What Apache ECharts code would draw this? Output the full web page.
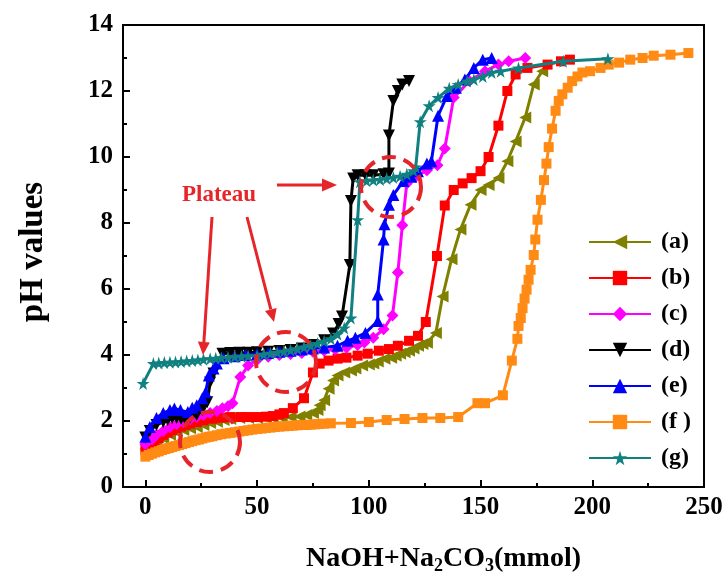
<!DOCTYPE html>
<html>
<head>
<meta charset="utf-8">
<script src="https://cdn.jsdelivr.net/npm/echarts@6/dist/echarts.min.js"></script>
<style>html,body{margin:0;padding:0;background:#fff}#c{width:726px;height:580px}</style>
</head>
<body>
<div id="c"></div>
<script>
var seriesNames = ['(a)', '(b)', '(c)', '(d)', '(e)', '(f )', '(g)'];
var xTickValues = [0, 50, 100, 150, 200, 250];
var xMinorValues = [25, 75, 125, 175, 225];
var yTickValues = [0, 2, 4, 6, 8, 10, 12, 14];

var dataA = [[0,1.15],[3,1.28],[5,1.38],[8,1.48],[11,1.58],[14,1.66],[17,1.73],[20,1.78],[23,1.82],[26,1.88],[29,1.94],[32,1.98],[35,2.03],[38,2.06],[42,2.09],[46,2.09],[50,2.09],[54,2.09],[57,2.09],[61,2.1],[65,2.12],[69,2.14],[72,2.18],[75,2.24],[77,2.33],[78,2.48],[80,2.63],[82,2.98],[84,3.23],[86,3.38],[89,3.47],[92,3.53],[94,3.59],[97,3.68],[100,3.71],[102,3.74],[104,3.8],[107,3.89],[110,3.92],[112,3.98],[114,4.04],[116,4.08],[118,4.13],[120,4.2],[122,4.28],[124,4.33],[126,4.37],[130,4.67],[133,5.77],[137,6.9],[141,7.8],[145.5,8.55],[150,9.0],[153.6,9.15],[158,9.36],[162,9.87],[165.7,10.47],[170,11.2],[173.8,12.2],[177.6,12.6]];
var dataB = [[0,1.12],[2,1.25],[4,1.38],[6,1.48],[8,1.58],[10,1.65],[12,1.72],[14,1.78],[16,1.83],[18,1.88],[20,1.92],[23,1.97],[26,2.02],[30,2.07],[34,2.1],[38,2.12],[42.5,2.12],[46,2.12],[50,2.12],[54,2.13],[57,2.15],[60,2.2],[62,2.24],[66,2.39],[71,2.69],[75,3.47],[78,3.74],[82,3.83],[86,3.89],[90,3.92],[95,3.98],[99.5,4.04],[104.5,4.13],[109,4.18],[113,4.28],[118,4.43],[122,4.58],[125.5,5.0],[130.5,7.0],[134,8.53],[138,9.0],[142,9.2],[146,9.36],[150,9.57],[153.6,10.0],[158,10.95],[162,12.0],[165.7,12.5],[171,12.7],[180,12.8],[186,12.9],[190,12.95]];
var dataC = [[0,1.3],[3,1.45],[5,1.58],[8,1.7],[11,1.82],[14,1.9],[17,1.97],[20,2.05],[23,2.12],[26,2.18],[29,2.24],[32,2.3],[34.5,2.39],[37,2.45],[39,2.54],[42.5,3.33],[46,3.68],[50,3.85],[55,3.95],[60,4.0],[65,4.03],[70,4.06],[75,4.1],[80,4.13],[85,4.17],[90,4.22],[95,4.3],[98,4.38],[102,4.52],[106.6,4.78],[110.6,5.2],[113,6.5],[115,7.93],[117,9.2],[121,9.4],[126,9.6],[130.7,9.75],[134,10.26],[138,11.8],[145,12.3],[152,12.6],[158,12.8],[162.6,12.9],[170,13.0]];
var dataD = [[0,1.5],[2,1.7],[5,1.88],[8,1.97],[10,2.03],[12,2.08],[14,2.09],[16,2.07],[18,2.03],[20,2.1],[23,2.18],[25.5,2.33],[27.7,2.57],[29,3.17],[30.5,3.44],[32,3.74],[34.5,4.04],[38,4.06],[42,4.07],[46,4.07],[50,4.08],[55,4.1],[60,4.12],[65,4.15],[70,4.2],[75,4.3],[80,4.45],[84,4.65],[86.5,4.94],[88,5.17],[91.5,6.73],[92,8.67],[93,9.35],[95,9.45],[98.5,9.45],[102,9.45],[106.6,9.48],[109,9.5],[109,10.65],[111,11.7],[113,12.0],[115,12.2],[118,12.3]];
var dataE = [[0,1.52],[2,1.82],[5,2.09],[8,2.24],[11,2.33],[13,2.38],[15.7,2.33],[19,2.27],[21,2.4],[23,2.48],[25.5,2.69],[27,2.87],[28.4,3.38],[30.5,3.59],[32,3.74],[35,3.9],[40,3.96],[45,4.0],[50,4.03],[55,4.06],[60,4.1],[65,4.13],[70,4.17],[75,4.2],[80,4.23],[86,4.28],[90.5,4.43],[94,4.52],[98.5,4.67],[104,5.03],[104,5.83],[106.6,7.5],[107,7.96],[109,8.55],[111,8.85],[115.5,9.27],[119,9.4],[122,9.57],[126,9.8],[128,9.87],[131,11.25],[135,11.85],[139,12.1],[143,12.35],[147,12.7],[151,12.95],[155,13.0]];
var dataF = [[0,0.92],[1.5,0.97],[3,1.01],[4.5,1.05],[6,1.08],[7.5,1.12],[9,1.15],[10.5,1.18],[12,1.21],[13.5,1.24],[15,1.27],[16.5,1.3],[18,1.33],[19.5,1.36],[21,1.39],[22.5,1.42],[24,1.44],[25.5,1.47],[27,1.5],[28.5,1.52],[30,1.54],[32,1.57],[34,1.6],[36,1.62],[38,1.64],[40,1.66],[42,1.68],[44,1.7],[46,1.72],[48,1.74],[50,1.76],[52,1.77],[54,1.79],[56,1.8],[58,1.82],[60,1.83],[62,1.84],[64,1.85],[66,1.86],[68,1.87],[70,1.88],[72,1.88],[74,1.89],[76,1.9],[78,1.91],[80,1.92],[83,1.93],[92,1.94],[100,1.97],[108,2.03],[116,2.06],[124,2.09],[132,2.09],[140,2.12],[148.6,2.54],[152,2.54],[160,2.78],[164,3.83],[166.5,4.49],[167,4.88],[168,5.12],[168.8,5.42],[169.7,5.71],[170.6,5.98],[171.5,6.28],[172.4,6.58],[173.8,7.03],[174.5,7.5],[175.5,8.1],[177,8.7],[178.4,9.3],[179.5,9.8],[180.5,10.3],[182,10.86],[183.6,11.4],[185,11.7],[186.6,11.9],[189,12.1],[191,12.3],[193.4,12.44],[195.6,12.56],[199,12.6],[203.7,12.7],[207.4,12.8],[212,12.86],[217,12.95],[222.5,13.0],[227.5,13.07],[235,13.1],[243,13.15]];
var dataG = [[-1,3.14],[3.6,3.74],[6,3.76],[8.5,3.77],[11,3.78],[13.5,3.79],[16,3.8],[18.5,3.82],[21,3.83],[23.5,3.85],[26,3.87],[29,3.89],[31.5,3.9],[34,3.92],[37,3.93],[40,3.95],[43,3.96],[46,3.97],[50,3.98],[53,4.02],[56,4.05],[59,4.08],[62,4.11],[65,4.15],[68,4.19],[71,4.24],[74,4.29],[77,4.35],[80,4.42],[83,4.49],[86,4.63],[89,4.82],[92,5.12],[95,8.1],[96,9.25],[99,9.28],[102,9.3],[105,9.32],[108,9.35],[111,9.38],[114,9.42],[117,9.48],[120,9.58],[121,9.7],[123,11.07],[127,11.55],[131,11.8],[136,12.08],[140,12.2],[144,12.3],[147,12.35],[151,12.44],[155,12.56],[159,12.6],[167,12.7],[187,12.9],[207,12.98]];

var seriesData = [dataA, dataB, dataC, dataD, dataE, dataF, dataG];
var colors = ['#808000', '#ff0000', '#ff00ff', '#000000', '#0000ff', '#ff8a14', '#108080'];
var STAR = 'path://M50,0 L61,35 L98,35 L68,57 L79,91 L50,70 L21,91 L32,57 L2,35 L39,35 Z';
var symbols = ['triangle', 'rect', 'diamond', 'triangle', 'triangle', 'rect', STAR];
var rotations = [90, 0, 0, 180, 0, 0, 0];
var sizes = [12, 10, 12, 12, 12, 10, 13];

var FONT = '"Liberation Serif", "Times New Roman", serif';
var RED = '#e5252a';

var chart = echarts.init(document.getElementById('c'), null, {renderer: 'canvas'});

var series = seriesNames.map(function (n, i) {
  return {
    name: n, type: 'line', data: seriesData[i],
    symbol: symbols[i], symbolSize: sizes[i], symbolRotate: rotations[i],
    showAllSymbol: true,
    lineStyle: {width: 3, color: colors[i]},
    itemStyle: {color: colors[i]},
    z: 3 + i,
    animation: false
  };
});

var option = {
  animation: false,
  color: colors,
  grid: {left: 123, top: 25, right: 22, bottom: 87, show: true, borderColor: '#000', borderWidth: 2, containLabel: false},
  xAxis: [{
    type: 'value', min: -10, max: 250,
    axisLine: {show: true, onZero: false, lineStyle: {color: '#000', width: 2}},
    splitLine: {show: false},
    axisTick: {show: true, inside: true, length: 7, lineStyle: {width: 2, color: '#000'}, customValues: xTickValues},
    axisLabel: {customValues: xTickValues, fontFamily: FONT, fontWeight: 'bold', fontSize: 25, color: '#000', margin: 8},
    name: 'NaOH+Na{s|2}CO{s|3}(mmol)', nameLocation: 'middle', nameGap: 56,
    nameTextStyle: {fontFamily: FONT, fontWeight: 'bold', fontSize: 28, color: '#000', padding: [0, 0, 0, 60],
      rich: {s: {fontFamily: FONT, fontWeight: 'bold', fontSize: 18, color: '#000', verticalAlign: 'bottom', padding: [14, 0, 0, 0]}}}
  }, {
    type: 'value', min: -10, max: 250, position: 'bottom',
    axisLine: {show: false}, splitLine: {show: false},
    axisTick: {show: true, inside: true, length: 4, lineStyle: {width: 2, color: '#000'}, customValues: xMinorValues},
    axisLabel: {show: false}
  }],
  yAxis: {
    type: 'value', min: 0, max: 14, interval: 2,
    axisLine: {show: true, onZero: false, lineStyle: {color: '#000', width: 2}},
    splitLine: {show: false},
    axisTick: {show: true, inside: true, length: 7, lineStyle: {width: 2, color: '#000'}},
    minorTick: {show: true, splitNumber: 2, length: 4, lineStyle: {width: 2, color: '#000'}},
    axisLabel: {fontFamily: FONT, fontWeight: 'bold', fontSize: 25, color: '#000', margin: 10},
    name: 'pH values', nameLocation: 'middle', nameGap: 73,
    nameTextStyle: {fontFamily: FONT, fontWeight: 'bold', fontSize: 33, color: '#000', padding: [0, 0, 0, 8]}
  },
  legend: {
    orient: 'vertical', left: 583, top: 225, itemWidth: 62, itemHeight: 18, itemGap: 12,
    textStyle: {fontFamily: FONT, fontWeight: 'bold', fontSize: 24, color: '#000', padding: [0, 0, 0, 5]},
    data: seriesNames
  },
  series: series,
  graphic: [
    {type: 'text', left: 182, top: 184, style: {text: 'Plateau', fontFamily: FONT, fontWeight: 'bold', fontSize: 23, fill: RED}, z: 100},
    {type: 'line', shape: {x1: 277, y1: 185, x2: 324, y2: 185}, style: {stroke: RED, lineWidth: 3}, z: 100},
    {type: 'polygon', shape: {points: [[337, 185], [322, 178.5], [322, 191.5]]}, style: {fill: RED}, z: 100},
    {type: 'line', shape: {x1: 212, y1: 217, x2: 203.9, y2: 342}, style: {stroke: RED, lineWidth: 3}, z: 100},
    {type: 'polygon', shape: {points: [[203, 355], [209.8, 342.4], [197.9, 341.6]]}, style: {fill: RED}, z: 100},
    {type: 'line', shape: {x1: 247, y1: 217, x2: 270.8, y2: 309.4}, style: {stroke: RED, lineWidth: 3}, z: 100},
    {type: 'polygon', shape: {points: [[274, 322], [276.6, 307.9], [265, 310.9]]}, style: {fill: RED}, z: 100},
    {type: 'circle', shape: {cx: 391, cy: 187, r: 30}, style: {fill: 'none', stroke: RED, lineWidth: 4, lineDash: [14, 8]}, z: 100},
    {type: 'circle', shape: {cx: 286, cy: 362, r: 30}, style: {fill: 'none', stroke: RED, lineWidth: 4, lineDash: [14, 8]}, z: 100},
    {type: 'circle', shape: {cx: 210, cy: 442, r: 30}, style: {fill: 'none', stroke: RED, lineWidth: 4, lineDash: [14, 8]}, z: 100}
  ]
};
chart.setOption(option);
</script>
</body>
</html>
